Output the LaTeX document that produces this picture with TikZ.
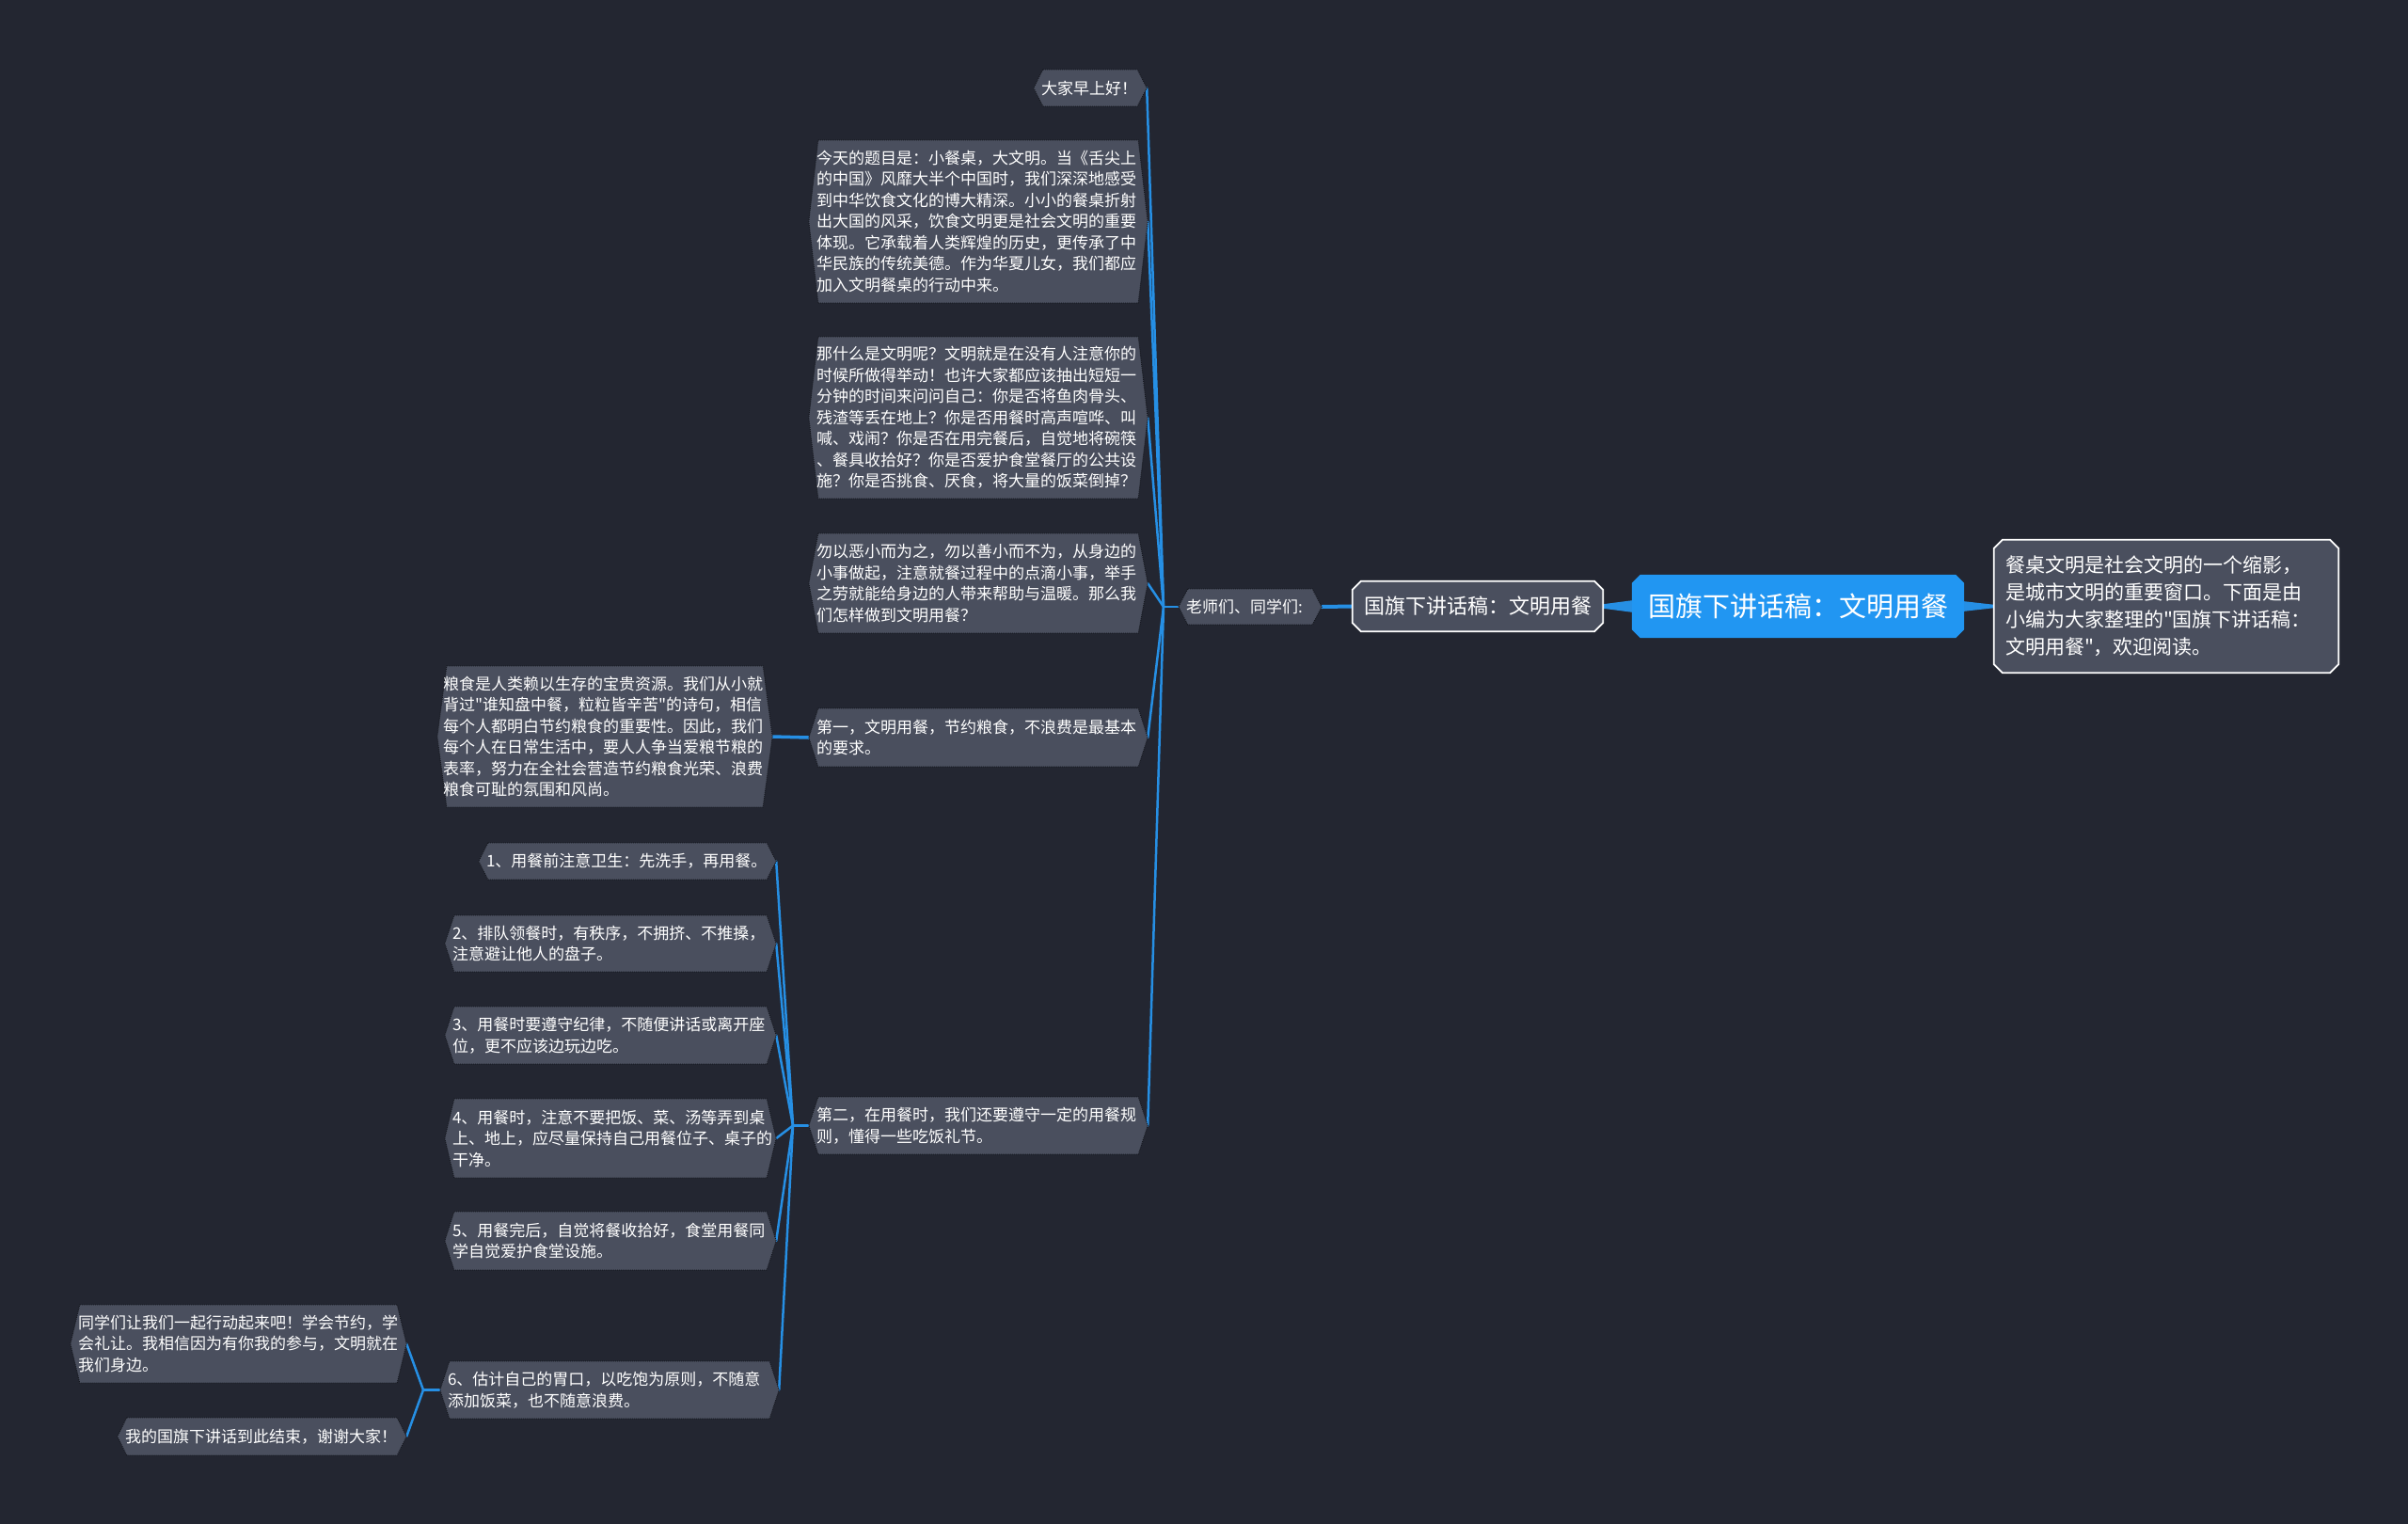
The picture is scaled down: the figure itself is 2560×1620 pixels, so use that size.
\documentclass[tikz,border=0pt]{standalone}
\usepackage{fontspec}
\setmainfont{Noto Sans CJK SC}
\newfontfamily\cjkf{Noto Sans CJK SC}
\usetikzlibrary{calc}
\pgfdeclarelayer{bg}
\pgfsetlayers{bg,main}
\definecolor{bgc}{RGB}{35,38,49}
\definecolor{nodefill}{RGB}{74,79,94}
\definecolor{lineblue}{RGB}{38,143,228}
\definecolor{rootblue}{RGB}{33,150,242}
\definecolor{dotc}{RGB}{22,24,31}
\tikzset{
  every node/.style={text=white, inner sep=0pt},
  small/.style={font=\cjkf\fontsize{17pt}{22.5pt}\selectfont, align=left, inner xsep=8pt},
  link/.style={draw=lineblue, line width=2.5pt, line cap=round},
  hexfill/.style={fill=nodefill, draw=dotc, densely dotted, line width=1pt},
  octwhite/.style={fill=nodefill, draw=white, line width=1.8pt},
  octroot/.style={fill=rootblue},
}
\newcommand\hexshape[1]{\path[hexfill] ([xshift=10pt]#1.north west) -- ([xshift=-10pt]#1.north east) -- (#1.east) -- ([xshift=-10pt]#1.south east) -- ([xshift=10pt]#1.south west) -- (#1.west) -- cycle;}
\newcommand\octshape[3]{\path[#3] ([xshift=#2]#1.north west) -- ([xshift=-#2]#1.north east) -- ([yshift=-#2]#1.north east) -- ([yshift=#2]#1.south east) -- ([xshift=-#2]#1.south east) -- ([xshift=#2]#1.south west) -- ([yshift=#2]#1.south west) -- ([yshift=-#2]#1.north west) -- cycle;}
\begin{document}
\begin{tikzpicture}[x=1pt,y=-1pt]
\begin{pgfonlayer}{bg}
\fill[bgc] (0,0) rectangle (2560,1620);
\end{pgfonlayer}
\useasboundingbox (0,0) rectangle (2560,1620);

% root and first level
\node[font=\cjkf\fontsize{29pt}{34pt}\selectfont, minimum width=353pt, minimum height=67pt] (root) at (1911.5,644.5) {国旗下讲话稿：文明用餐};
\node[font=\cjkf\fontsize{21pt}{29pt}\selectfont, align=left, inner xsep=12pt, text width=342pt, minimum height=141pt] (note) at (2303,644.5) {餐桌文明是社会文明的一个缩影，\\是城市文明的重要窗口。下面是由\\小编为大家整理的"国旗下讲话稿：\\文明用餐"，欢迎阅读。};
\node[font=\cjkf\fontsize{22pt}{26pt}\selectfont, minimum width=266pt, minimum height=53pt] (L1) at (1571,644.5) {国旗下讲话稿：文明用餐};
\node[small, text width=136pt, minimum height=38pt] (t) at (1329,645) {老师们、同学们:};

% right column
\node[small, text width=104pt, minimum height=39pt] (n1) at (1159,93.5) {大家早上好！};
\node[small, text width=344pt, minimum height=173pt] (b1) at (1040,235.5) {今天的题目是：小餐桌，大文明。当《舌尖上\\的中国》风靡大半个中国时，我们深深地感受\\到中华饮食文化的博大精深。小小的餐桌折射\\出大国的风采，饮食文明更是社会文明的重要\\体现。它承载着人类辉煌的历史，更传承了中\\华民族的传统美德。作为华夏儿女，我们都应\\加入文明餐桌的行动中来。};
\node[small, text width=344pt, minimum height=172pt] (b2) at (1040,444) {那什么是文明呢？文明就是在没有人注意你的\\时候所做得举动！也许大家都应该抽出短短一\\分钟的时间来问问自己：你是否将鱼肉骨头、\\残渣等丢在地上？你是否用餐时高声喧哗、叫\\喊、戏闹？你是否在用完餐后，自觉地将碗筷\\、餐具收拾好？你是否爱护食堂餐厅的公共设\\施？你是否挑食、厌食，将大量的饭菜倒掉？};
\node[small, text width=344pt, minimum height=106pt] (b3) at (1040,620) {勿以恶小而为之，勿以善小而不为，从身边的\\小事做起，注意就餐过程中的点滴小事，举手\\之劳就能给身边的人带来帮助与温暖。那么我\\们怎样做到文明用餐？};
\node[small, text width=344pt, minimum height=62pt] (d1) at (1040,784) {第一，文明用餐，节约粮食，不浪费是最基本\\的要求。};
\node[small, text width=344pt, minimum height=61pt] (d2) at (1040,1196.5) {第二，在用餐时，我们还要遵守一定的用餐规\\则，懂得一些吃饭礼节。};

% left column
\node[small, inner xsep=6pt, text width=344pt, minimum height=150pt] (grain) at (643,783) {粮食是人类赖以生存的宝贵资源。我们从小就\\背过"谁知盘中餐，粒粒皆辛苦"的诗句，相信\\每个人都明白节约粮食的重要性。因此，我们\\每个人在日常生活中，要人人争当爱粮节粮的\\表率，努力在全社会营造节约粮食光荣、浪费\\粮食可耻的氛围和风尚。};
\node[small, text width=300pt, minimum height=39pt] (i1) at (667,915.5) {1、用餐前注意卫生：先洗手，再用餐。};
\node[small, text width=336pt, minimum height=60pt] (i2) at (649,1003) {2、排队领餐时，有秩序，不拥挤、不推搡，\\注意避让他人的盘子。};
\node[small, text width=336pt, minimum height=61pt] (i3) at (649,1100.5) {3、用餐时要遵守纪律，不随便讲话或离开座\\位，更不应该边玩边吃。};
\node[small, text width=336pt, minimum height=84pt] (i4) at (649,1210) {4、用餐时，注意不要把饭、菜、汤等弄到桌\\上、地上，应尽量保持自己用餐位子、桌子的\\干净。};
\node[small, text width=336pt, minimum height=62pt] (i5) at (649,1319) {5、用餐完后，自觉将餐收拾好，食堂用餐同\\学自觉爱护食堂设施。};
\node[small, text width=344pt, minimum height=61pt] (i6) at (648,1477.5) {6、估计自己的胃口，以吃饱为原则，不随意\\添加饭菜，也不随意浪费。};
\node[small, text width=341pt, minimum height=83pt] (c1) at (253.5,1428.5) {同学们让我们一起行动起来吧！学会节约，学\\会礼让。我相信因为有你我的参与，文明就在\\我们身边。};
\node[small, text width=291pt, minimum height=40pt] (c2) at (278.5,1527) {我的国旗下讲话到此结束，谢谢大家！};

\coordinate (j1) at (1237,645);
\coordinate (j2) at (843,1196.5);
\coordinate (j3) at (450,1477.5);

\begin{pgfonlayer}{bg}
% tapered connectors
\fill[lineblue] ($(root.west)+(2,-6.5)$) -- ($(root.west)+(2,6.5)$) -- ($(L1.east)+(-2,2)$) -- ($(L1.east)+(-2,-2)$) -- cycle;
\fill[lineblue] ($(root.east)+(-2,-5.5)$) -- ($(root.east)+(-2,5.5)$) -- ($(note.west)+(2,1.5)$) -- ($(note.west)+(2,-1.5)$) -- cycle;
\draw[link, line width=4pt] (L1.west) -- (t.east);
\draw[link] (t.west) -- (j1);
\foreach \n in {n1,b1,b2,b3,d1,d2} \draw[link] (j1) -- (\n.east);
\draw[link, line width=3.5pt] (d1.west) -- (grain.east);
\draw[link] (d2.west) -- (j2);
\foreach \n in {i1,i2,i3,i4,i5,i6} \draw[link] (j2) -- (\n.east);
\draw[link] (i6.west) -- (j3);
\foreach \n in {c1,c2} \draw[link] (j3) -- (\n.east);
% node shapes
\octshape{root}{9pt}{octroot}
\octshape{note}{9pt}{octwhite}
\octshape{L1}{9pt}{octwhite}
\foreach \n in {t,n1,b1,b2,b3,d1,d2,grain,i1,i2,i3,i4,i5,i6,c1,c2} {\hexshape{\n}}
\end{pgfonlayer}
\end{tikzpicture}
\end{document}
